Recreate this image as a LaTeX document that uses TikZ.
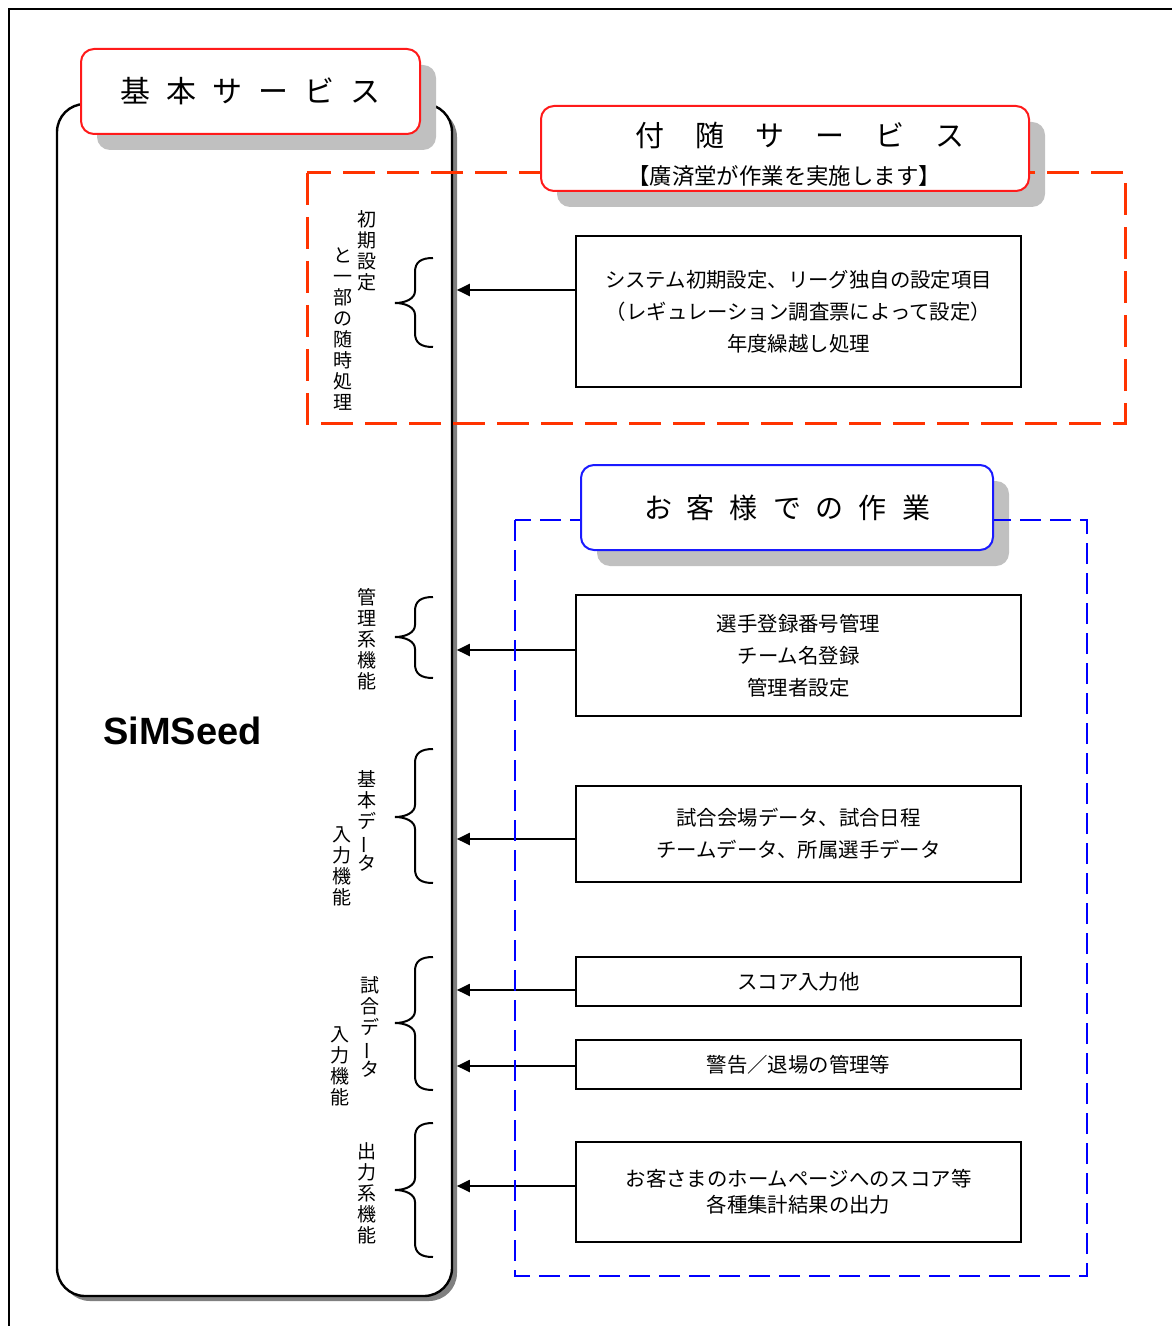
\documentclass[tikz,border=0pt]{standalone}
\usepackage{fontspec}
\usepackage{graphicx}
\setmainfont{Noto Sans CJK JP}
\newfontfamily\simfont{Liberation Sans}
\usetikzlibrary{arrows.meta,calc}
\definecolor{hdred}{HTML}{FF1A1A}
\definecolor{dred}{HTML}{FF3300}
\definecolor{hdblue}{HTML}{1A1AFF}
\definecolor{dblue}{HTML}{0000FF}
\definecolor{shlight}{HTML}{C0C0C0}
\definecolor{shdark}{HTML}{808080}
\newcommand\choon{\rotatebox[origin=c]{90}{ー}}
\newcommand\mybrace[3]{%
  \draw[brc] (433,#1) .. controls (421,#1) and (415,#1+4) .. (415,#1+14)
    -- (415,#3-12) .. controls (415,#3-4) and (405,#3) .. (395,#3)
    .. controls (405,#3) and (415,#3+4) .. (415,#3+12)
    -- (415,#2-14) .. controls (415,#2-4) and (421,#2) .. (433,#2);}
\begin{document}
\begin{tikzpicture}[x=0.5pt,y=-0.5pt,
  hdr/.style={draw=#1, line width=1pt, rounded corners=6.5pt, fill=white, inner sep=0pt, align=center},
  workbox/.style={draw, line width=1pt, fill=white, minimum width=222.5pt, inner sep=0pt, align=center,
     font=\fontsize{10.2pt}{15.9pt}\selectfont},
  vtext/.style={align=center, inner sep=0pt, font=\fontsize{9.5pt}{10.5pt}\selectfont},
  brc/.style={line width=1pt},
  arr/.style={line width=1pt, -{Triangle[length=6.5pt,width=6pt]}, shorten >=1.8pt},
  shd/.style={fill=shlight, rounded corners=6.5pt}
]
\useasboundingbox (0,0) rectangle (1171,1326);
% outer frame
\draw[line width=1pt] (9,1330) -- (9,9) -- (1175,9);

% SiMSeed big box
\fill[shdark, rounded corners=14pt] (62,109) rectangle (457,1301);
\node[draw, fill=white, line width=1.2pt, rounded corners=14pt, minimum width=197.5pt, minimum height=596pt, inner sep=0pt] (big) at (254.5,700) {};
\node[inner sep=0pt, font=\simfont\bfseries\fontsize{19pt}{20pt}\selectfont] (sim) at (182.5,731) {SiMSeed};

% header 1
\fill[shd] (97,65) rectangle (436,150);
\node[hdr=hdred, minimum width=169.5pt, minimum height=42.5pt, font=\fontsize{15pt}{16pt}\selectfont] (h1) at (250.5,91.5)
  {基\hspace{8pt}本\hspace{8pt}サ\hspace{8pt}ー\hspace{8pt}ビ\hspace{8pt}ス};

% header 2 + red dashed region
\fill[shd] (557,122) rectangle (1045,207);
\draw[dred, line width=1.5pt, dash pattern=on 16pt off 6pt] (307,173) rectangle (1125,423);
\node[hdr=hdred, minimum width=244pt, minimum height=42.5pt] (h2) at (785,148.5) {};
\node[inner sep=0pt, font=\fontsize{14.5pt}{15pt}\selectfont] (h2a) at (800,135)
  {付\hspace{15.5pt}随\hspace{15.5pt}サ\hspace{15.5pt}ー\hspace{15.5pt}ビ\hspace{15.5pt}ス};
\node[inner sep=0pt, font=\fontsize{11.2pt}{12pt}\selectfont] (h2b) at (784,176) {【廣済堂が作業を実施します】};

% header 3 shadow
\fill[shd] (597,481) rectangle (1009,566);

% work boxes
\node[workbox, minimum height=75.5pt] (b1) at (798.5,311.5)
  {システム初期設定、リーグ独自の設定項目\\（レギュレーション調査票によって設定）\\年度繰越し処理};
\node[workbox, minimum height=60.5pt] (b2) at (798.5,655.5)
  {選手登録番号管理\\チーム名登録\\管理者設定};
\node[workbox, minimum height=48pt] (b3) at (798.5,834)
  {試合会場データ、試合日程\\チームデータ、所属選手データ};
\node[workbox, minimum height=24.5pt] (b4) at (798.5,981.5) {スコア入力他};
\node[workbox, minimum height=24.5pt] (b5) at (798.5,1064.5) {警告／退場の管理等};
\node[workbox, minimum height=50pt, font=\fontsize{10.2pt}{13pt}\selectfont] (b6) at (798.5,1192)
  {お客さまのホームページへのスコア等\\各種集計結果の出力};

% arrows
\coordinate (s1) at ([yshift=10.75pt]b1.west);
\coordinate (s2) at ([yshift=2.75pt]b2.west);
\coordinate (s3) at ([yshift=-2.5pt]b3.west);
\coordinate (s4) at ([yshift=-4.25pt]b4.west);
\coordinate (s5) at ([yshift=-0.75pt]b5.west);
\coordinate (s6) at ([yshift=3pt]b6.west);
\foreach \s in {s1,s2,s3,s4,s5,s6}
  \draw[arr] (\s) -- (\s -| big.east);

% blue dashed region + header 3
\draw[dblue, line width=1pt, dash pattern=on 10.5pt off 4.5pt] (515,520) rectangle (1087,1276);
\node[hdr=hdblue, minimum width=206pt, minimum height=42.5pt, font=\fontsize{14pt}{15pt}\selectfont] (h3) at (787,507.5)
  {お\hspace{7.5pt}客\hspace{7.5pt}様\hspace{7.5pt}で\hspace{7.5pt}の\hspace{7.5pt}作\hspace{7.5pt}業};

% braces
\mybrace{258}{347}{303}
\mybrace{597}{678}{637}
\mybrace{749}{883}{817}
\mybrace{957}{1090}{1023}
\mybrace{1123}{1257}{1190}

% vertical labels
\node[vtext] (v1a) at (367,251) {初\\期\\設\\定};
\node[vtext] (v1b) at (343,329) {と\\一\\部\\の\\随\\時\\処\\理};
\node[vtext] (v2) at (367,639) {管\\理\\系\\機\\能};
\node[vtext] (v3a) at (367,821) {基\\本\\デ\\\choon\\タ};
\node[vtext] (v3b) at (342,866) {入\\力\\機\\能};
\node[vtext] (v4a) at (370,1027) {試\\合\\デ\\\choon\\タ};
\node[vtext] (v4b) at (340,1066) {入\\力\\機\\能};
\node[vtext] (v5) at (367,1193) {出\\力\\系\\機\\能};
\end{tikzpicture}
\end{document}
